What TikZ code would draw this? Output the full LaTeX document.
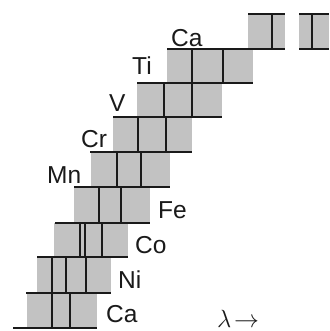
\documentclass[tikz,border=0pt]{standalone}
\usepackage{fontspec}
\setmainfont{Liberation Sans}
\usepackage{tikz}
\usetikzlibrary{positioning}
\definecolor{PlateGray}{HTML}{C2C2C2}
\definecolor{PlateInk}{HTML}{1A1A1A}

\begin{document}
\begin{tikzpicture}[x=1pt,y=-1pt,
  band/.style={fill=PlateGray,draw=none},
  rule/.style={line width=2pt,PlateInk},
  specline/.style={line width=1.6pt,PlateInk},
  elem/.style={font=\fontsize{24.5}{25}\selectfont,anchor=base west,inner sep=0pt,text=PlateInk},
]
\useasboundingbox (0,0) rectangle (329,331);
\foreach \name/\top/\bot/\lft/\rgt/\lines in {
    Ti/49/83/167/253/{192,223}, V/83/117/137/222/{164,192},
    Cr/117/152/113/192/{138,166}, Mn/152/187/91/170/{117,141},
    Fe/187/223/74/150/{99,121}, Co/223/257/54/128/{80,85,102},
    Ni/257/293/37/111/{52,66,86}, Ca/293/328/27/97/{52,70}}{
  \fill[band] (\lft,\top) rectangle (\rgt,\bot);
  \foreach \v in \lines {\draw[specline] (\v,\top) -- (\v,\bot);}
}
\fill[band] (248,14) rectangle (285,49);
\fill[band] (299,14) rectangle (329,49);
\draw[specline] (272,14) -- (272,49);
\draw[specline] (312,14) -- (312,49);
\foreach \y/\a/\b in {14/248/285, 14/299/329, 49/167/285, 49/299/329,
    83/137/253, 117/113/222, 152/90/192, 187/74/170, 223/55/150,
    257/37/128, 293/26/111, 328/13/97}
  \draw[rule] (\a,\y) -- (\b,\y);
\node[elem] (caTop) at (171,47) {Ca};
\node[elem] (ti) at (132,75) {Ti};
\node[elem] (v) at (109,112) {V};
\node[elem] (cr) at (81,147) {Cr};
\node[elem] (mn) at (47,183) {Mn};
\node[elem] (fe) at (158,218) {Fe};
\node[elem] (co) at (135,253) {Co};
\node[elem] (ni) at (118,288) {Ni};
\node[elem] (caBot) at (106,322) {Ca};
\node[elem,font=\fontsize{23}{23}\selectfont] (lambda) at (217,327) {$\lambda\!\rightarrow$};
\end{tikzpicture}
\end{document}
